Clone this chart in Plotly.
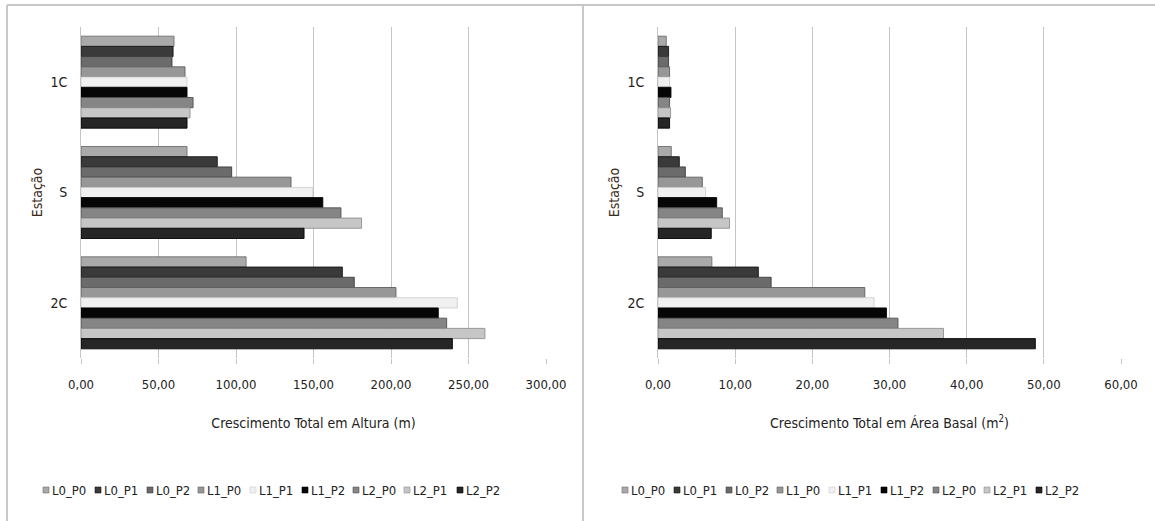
import plotly.graph_objects as go

# Station categories (top to bottom) and treatment series
categories = ["1C", "S", "2C"]
series = ["L0_P0", "L0_P1", "L0_P2", "L1_P0", "L1_P1", "L1_P2", "L2_P0", "L2_P1", "L2_P2"]

# Total height growth (m), one list per station, in series order
altura_1C = [60.0, 59.4, 58.7, 67.1, 68.4, 68.4, 72.3, 70.3, 68.4]
altura_S = [68.4, 87.9, 97.2, 135.5, 149.5, 156.0, 167.7, 181.0, 143.9]
altura_2C = [106.5, 168.6, 176.3, 203.2, 242.8, 230.5, 235.9, 260.6, 239.6]

# Total basal area growth (m2), one list per station, in series order
area_1C = [1.07, 1.37, 1.37, 1.50, 1.50, 1.68, 1.50, 1.63, 1.50]
area_S = [1.72, 2.76, 3.54, 5.74, 6.17, 7.60, 8.33, 9.27, 6.90]
area_2C = [6.98, 13.0, 14.66, 26.8, 28.0, 29.6, 31.1, 37.0, 48.9]

# Grey shades for each series
fills = ["#a9a9a9", "#3a3a3a", "#6b6b6b", "#979797", "#f0f0f0",
         "#060606", "#858585", "#c6c6c6", "#262626"]
edges = ["#6f6f6f", "#141414", "#3c3c3c", "#5f5f5f", "#cfcfcf",
         "#000000", "#505050", "#8f8f8f", "#050505"]

FONT = "DejaVu Sans Condensed, Liberation Sans Narrow, Roboto, sans-serif"
GRID = "#c4c4c4"
TXT = "#222222"

# Page geometry (pixels) and the plotting margins
W, H = 1155, 521
ML, MR, MT, MB = 81, 34, 27, 163
PW, PH = W - ML - MR, H - MT - MB


def px_x(px):
    """Horizontal pixel -> paper coordinate."""
    return (px - ML) / PW


def px_y(py):
    """Vertical pixel (from top) -> paper coordinate."""
    return (H - MB - py) / PH


fig = go.Figure()

alt_rows = [altura_1C, altura_S, altura_2C]
area_rows = [area_1C, area_S, area_2C]

for i, name in enumerate(series):
    fig.add_trace(go.Bar(
        y=categories, x=[row[i] for row in alt_rows], orientation="h",
        name=name, marker=dict(color=fills[i], line=dict(color=edges[i], width=0.9)),
        xaxis="x", yaxis="y", showlegend=False,
    ))
for i, name in enumerate(series):
    fig.add_trace(go.Bar(
        y=categories, x=[row[i] for row in area_rows], orientation="h",
        name=name, marker=dict(color=fills[i], line=dict(color=edges[i], width=0.9)),
        xaxis="x2", yaxis="y2", showlegend=False,
    ))

xcommon = dict(
    tickformat=".2f", tick0=0, showgrid=True, gridcolor=GRID, gridwidth=1,
    zeroline=False, showline=False, ticks="outside", ticklen=5, tickcolor=GRID,
    ticklabelstandoff=9, automargin=False,
    tickfont=dict(size=13, color=TXT, family=FONT),
    title_font=dict(size=14, color=TXT, family=FONT), title_standoff=27,
)
ycommon = dict(
    type="category", categoryorder="array", categoryarray=categories,
    range=[2.5, -0.5], showgrid=False, showline=True, linecolor=GRID, linewidth=1,
    ticks="", ticklabelstandoff=10, automargin=False,
    tickfont=dict(size=14, color=TXT, family=FONT),
    title=dict(text="Estação", standoff=4,
               font=dict(size=14, color="#3b2a20", family=FONT)),
)

fig.update_layout(
    width=W, height=H, margin=dict(l=ML, r=MR, t=MT, b=MB),
    paper_bgcolor="white", plot_bgcolor="white",
    separators=",.", barmode="group", bargap=0.166, bargroupgap=0,
    font=dict(family=FONT, size=13, color=TXT),
    showlegend=False,
    xaxis=dict(domain=[0, px_x(546)], range=[0, 300], dtick=50, anchor="y",
               title_text="Crescimento Total em Altura (m)", **xcommon),
    yaxis=dict(domain=[0, 1], anchor="x", **ycommon),
    xaxis2=dict(domain=[px_x(658), 1], range=[0, 60], dtick=10, anchor="y2",
                title_text="Crescimento Total em Área Basal (m<sup>2</sup>)", **xcommon),
    yaxis2=dict(domain=[0, 1], anchor="x2", **ycommon),
)

# Legend rows under each panel: small square swatch followed by the series name
legend_left_px = [43, 95, 147, 198, 250, 302, 353, 404, 457]
legend_right_px = [622, 674, 726, 777, 829, 881, 933, 984, 1036]
LEG_Y = 490
for starts in (legend_left_px, legend_right_px):
    for i, name in enumerate(series):
        x0 = starts[i]
        fig.add_shape(type="rect", xref="paper", yref="paper",
                      x0=px_x(x0), x1=px_x(x0 + 6), y0=px_y(LEG_Y + 3), y1=px_y(LEG_Y - 3),
                      fillcolor=fills[i], line=dict(color=edges[i], width=0.6))
        fig.add_annotation(xref="paper", yref="paper", x=px_x(x0 + 7), y=px_y(LEG_Y),
                           xanchor="left", yanchor="middle", showarrow=False, text=name,
                           font=dict(size=13, color=TXT, family=FONT))

# Panel frames
frame = dict(color="#c8c8c8", width=2)
fig.add_shape(type="line", xref="paper", yref="paper", x0=px_x(7), x1=px_x(W),
              y0=px_y(5), y1=px_y(5), line=frame)
fig.add_shape(type="line", xref="paper", yref="paper", x0=px_x(7), x1=px_x(7),
              y0=px_y(H), y1=px_y(5), line=frame)
fig.add_shape(type="line", xref="paper", yref="paper", x0=px_x(583), x1=px_x(583),
              y0=px_y(H), y1=px_y(5), line=frame)

fig.write_html("out.html")
